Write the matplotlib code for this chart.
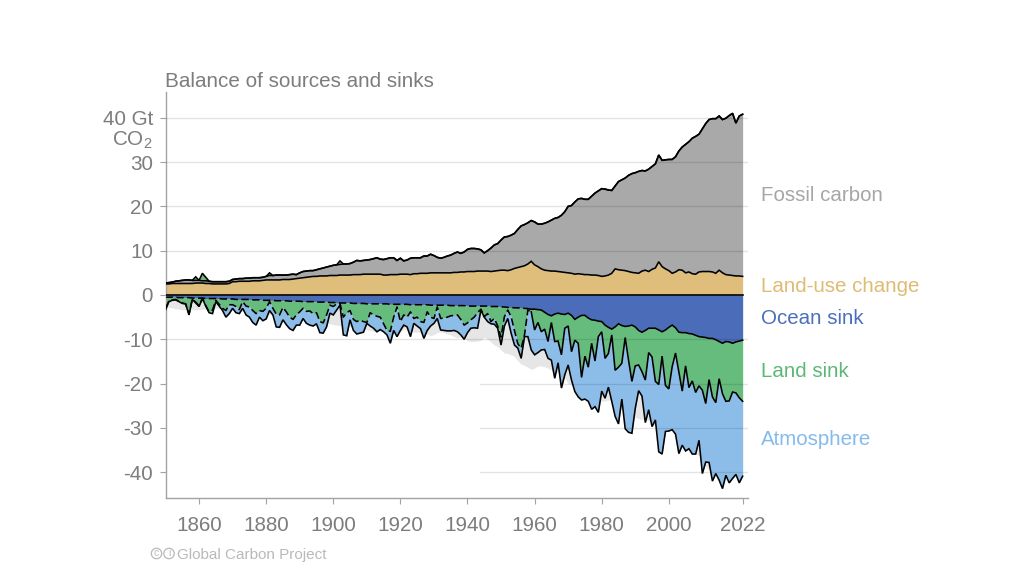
import numpy as np
import matplotlib
matplotlib.use("Agg")
import matplotlib.pyplot as plt
from matplotlib.patches import Circle

plt.rcParams['font.family'] = ['Liberation Sans', 'DejaVu Sans']
plt.rcParams['mathtext.fontset'] = 'custom'
plt.rcParams['mathtext.rm'] = 'Liberation Sans'
plt.rcParams['mathtext.default'] = 'regular'

years = list(range(1850, 2023))

# Upper edge of the stack: fossil carbon + land-use change (Gt CO2/yr)
total_emissions = [
    2.7, 2.8, 2.9, 3.1, 3.2, 3.3, 3.4, 3.4, 3.3, 3.3,
    3.3, 3.2, 3.2, 3.1, 3.0, 3.0, 3.0, 3.0, 3.0, 3.1,
    3.5, 3.6, 3.7, 3.7, 3.8, 3.8, 3.9, 3.9, 3.9, 4.0,
    4.2, 4.4, 4.4, 4.5, 4.5, 4.5, 4.5, 4.6, 4.7, 4.6,
    5.0, 5.3, 5.4, 5.5, 5.5, 5.7, 5.9, 6.1, 6.3, 6.5,
    6.7, 6.8, 6.9, 7.0, 7.0, 7.1, 7.4, 7.8, 7.7, 7.8,
    7.9, 8.0, 8.2, 8.4, 8.1, 8.0, 8.2, 8.4, 8.4, 7.8,
    8.3, 7.7, 7.9, 8.3, 8.4, 8.4, 8.4, 8.8, 8.8, 9.2,
    8.9, 8.5, 8.3, 8.5, 8.8, 9.0, 9.4, 9.7, 9.4, 9.7,
    10.3, 10.5, 10.5, 10.4, 10.2, 9.5, 10.0, 10.6, 11.3, 11.6,
    12.4, 13.1, 13.2, 13.5, 13.9, 14.8, 15.6, 15.9, 16.3, 16.8,
    16.5, 16.0, 16.0, 16.2, 16.5, 16.9, 17.3, 17.5, 18.0, 18.8,
    20.0, 20.2, 21.0, 21.7, 21.8, 21.6, 21.6, 22.3, 23.0, 23.5,
    24.0, 23.9, 23.7, 23.6, 24.6, 25.6, 26.0, 26.4, 27.0, 27.4,
    27.6, 27.9, 28.1, 28.0, 28.4, 29.0, 29.6, 31.6, 30.4, 30.5,
    30.6, 30.6, 31.2, 32.5, 33.4, 34.0, 34.6, 35.4, 35.8, 36.3,
    37.5, 38.7, 39.6, 39.8, 39.8, 40.4, 39.6, 39.9, 40.5, 41.0,
    38.8, 40.4, 40.8]

land_use_change = [
    2.5, 2.5, 2.6, 2.6, 2.6, 2.6, 2.6, 2.6, 2.6, 2.7,
    2.7, 2.7, 2.6, 2.6, 2.5, 2.5, 2.5, 2.5, 2.5, 2.6,
    3.0, 3.0, 3.1, 3.1, 3.1, 3.1, 3.2, 3.2, 3.2, 3.3,
    3.4, 3.4, 3.4, 3.4, 3.4, 3.5, 3.5, 3.5, 3.6, 3.7,
    3.8, 3.9, 4.0, 4.1, 4.2, 4.2, 4.3, 4.3, 4.3, 4.4,
    4.4, 4.4, 4.5, 4.5, 4.5, 4.5, 4.6, 4.6, 4.6, 4.7,
    4.7, 4.7, 4.7, 4.7, 4.7, 4.5, 4.5, 4.6, 4.6, 4.6,
    4.7, 4.7, 4.7, 4.6, 4.8, 4.8, 4.9, 4.9, 4.9, 5.0,
    5.0, 5.0, 5.0, 5.0, 5.0, 5.0, 5.1, 5.1, 5.2, 5.2,
    5.3, 5.3, 5.3, 5.4, 5.4, 5.4, 5.4, 5.3, 5.4, 5.5,
    5.6, 5.6, 5.5, 5.7, 6.0, 6.2, 6.4, 6.6, 7.0, 7.6,
    6.8, 6.4, 5.9, 5.6, 5.5, 5.4, 5.4, 5.3, 5.2, 5.1,
    5.0, 4.9, 4.7, 4.8, 4.7, 4.6, 4.6, 4.5, 4.5, 4.4,
    4.2, 4.3, 4.5, 4.9, 5.9, 5.7, 5.6, 5.5, 5.3, 5.1,
    5.0, 4.9, 5.4, 5.6, 5.3, 5.8, 6.1, 7.5, 6.4, 5.9,
    5.5, 4.9, 5.2, 5.7, 5.6, 5.0, 5.2, 4.8, 4.7, 5.2,
    5.3, 5.3, 5.3, 5.2, 4.9, 5.6, 5.0, 4.6, 4.5, 4.4,
    4.3, 4.3, 4.2]

ocean_sink = [
    -0.5, -0.5, -0.5, -0.5, -0.6, -0.6, -0.6, -0.6, -0.7, -0.7,
    -0.7, -0.7, -0.8, -0.8, -0.8, -0.8, -0.8, -0.9, -0.9, -0.9,
    -0.9, -1.0, -1.0, -1.0, -1.0, -1.0, -1.1, -1.1, -1.1, -1.2,
    -1.2, -1.2, -1.2, -1.3, -1.3, -1.3, -1.3, -1.4, -1.4, -1.4,
    -1.4, -1.5, -1.5, -1.5, -1.5, -1.6, -1.6, -1.6, -1.6, -1.7,
    -1.7, -1.7, -1.8, -1.8, -1.8, -1.8, -1.9, -1.9, -1.9, -1.9,
    -2.0, -2.0, -2.0, -2.0, -2.0, -2.0, -2.0, -2.1, -2.1, -2.1,
    -2.1, -2.1, -2.1, -2.2, -2.2, -2.2, -2.2, -2.2, -2.2, -2.3,
    -2.3, -2.3, -2.3, -2.3, -2.3, -2.4, -2.4, -2.4, -2.4, -2.4,
    -2.5, -2.5, -2.5, -2.5, -2.5, -2.5, -2.5, -2.6, -2.6, -2.6,
    -2.7, -2.7, -2.8, -2.8, -2.9, -2.9, -3.0, -3.0, -3.1, -3.2,
    -3.2, -3.3, -3.4, -3.9, -4.4, -4.7, -4.3, -4.1, -4.3, -4.4,
    -4.1, -4.6, -5.5, -5.0, -4.6, -4.6, -5.2, -5.6, -5.7, -5.9,
    -6.0, -6.8, -7.3, -7.7, -7.2, -6.5, -6.9, -7.1, -7.0, -6.8,
    -7.2, -8.0, -8.4, -8.0, -7.5, -7.5, -7.5, -7.9, -8.3, -7.9,
    -7.3, -6.8, -7.4, -8.4, -8.5, -8.5, -8.7, -8.8, -9.1, -9.4,
    -9.5, -9.6, -9.8, -9.8, -10.1, -10.5, -10.9, -10.5, -10.6, -10.9,
    -10.6, -10.4, -10.2]

# Lower edge of the land sink band (ocean + land)
ocean_plus_land = [
    -3.0, -1.4, -1.1, -1.0, -1.4, -1.8, -2.0, -4.3, -0.9, -1.6,
    -2.4, -0.8, -2.4, -3.8, -3.4, -1.2, -2.1, -3.0, -3.5, -2.2,
    -2.2, -2.6, -3.3, -1.5, -2.5, -2.7, -3.5, -4.2, -3.5, -3.7,
    -3.0, -1.5, -3.0, -4.3, -4.5, -2.8, -3.8, -5.0, -5.5, -4.5,
    -3.8, -3.0, -3.7, -3.6, -4.2, -4.0, -6.0, -6.3, -4.5, -2.3,
    -2.6, -2.0, -1.9, -5.0, -4.0, -3.5, -5.5, -6.0, -5.7, -6.0,
    -6.2, -4.0, -4.5, -4.8, -5.0, -6.5, -8.0, -8.2, -5.0, -2.7,
    -6.0, -4.5, -5.0, -3.8, -5.3, -5.0, -6.0, -6.2, -3.8, -5.0,
    -5.3, -2.7, -5.3, -5.2, -5.0, -4.7, -4.6, -4.5, -5.5, -6.8,
    -6.3, -5.6, -5.0, -4.0, -3.2, -4.9, -4.2, -6.0, -5.3, -7.0,
    -9.5, -4.9, -3.4, -4.9, -8.0, -11.0, -12.0, -9.0, -3.4, -3.8,
    -7.9, -6.2, -8.3, -7.7, -10.5, -6.2, -10.5, -10.4, -13.5, -7.5,
    -7.0, -12.8, -10.2, -10.9, -18.6, -13.8, -16.3, -10.9, -14.9, -9.4,
    -8.3, -14.3, -13.2, -9.0, -17.0, -16.3, -15.4, -9.6, -14.7, -19.5,
    -16.0, -15.8, -17.3, -19.2, -13.0, -14.0, -19.5, -20.2, -13.8, -20.4,
    -21.2, -16.2, -13.1, -17.4, -21.7, -16.0, -20.9, -19.4, -22.0, -20.5,
    -21.5, -24.5, -19.1, -23.0, -24.3, -18.9, -22.3, -24.0, -23.9, -21.9,
    -22.1, -23.2, -24.0]

# Lower edge of the atmosphere band (ocean + land + atmosphere)
all_sinks = [
    -3.4, -1.5, -1.2, -1.1, -1.5, -1.9, -2.0, -4.5, -1.0, -1.8,
    -2.6, -0.8, -2.5, -4.0, -4.2, -1.5, -2.5, -3.5, -5.0, -4.2,
    -3.0, -4.0, -4.2, -3.0, -4.5, -5.0, -6.2, -6.8, -5.0, -5.8,
    -5.4, -3.5, -4.5, -7.2, -7.3, -5.6, -6.7, -7.6, -8.0, -6.8,
    -6.8, -5.3, -6.4, -6.8, -7.0, -6.5, -8.5, -8.6, -7.2, -4.1,
    -4.5, -3.4, -2.3, -9.0, -9.2, -5.6, -8.0, -8.8, -8.6, -8.4,
    -6.4, -7.0, -7.5, -8.3, -7.8, -8.3, -9.0, -10.9, -8.0, -9.4,
    -8.0, -6.8, -7.2, -9.4, -6.4, -7.0, -7.6, -9.8, -8.0, -7.0,
    -6.4, -5.3, -7.9, -8.0, -8.1, -8.1, -8.0, -8.3, -9.0, -10.0,
    -8.5, -7.5, -7.4, -7.5, -3.4, -5.0, -6.0, -6.5, -6.6, -7.5,
    -11.3, -7.0, -5.3, -8.6, -11.3, -12.0, -14.3, -9.4, -9.4, -12.4,
    -13.5, -13.0, -12.4, -12.3, -14.3, -14.7, -18.8, -15.3, -21.0, -18.0,
    -15.8, -19.2, -21.8, -23.0, -23.7, -23.5, -24.0, -25.8, -25.2, -26.5,
    -21.7, -23.3, -20.8, -24.0, -27.4, -29.1, -23.5, -30.2, -31.0, -31.2,
    -25.6, -21.6, -22.8, -28.8, -25.9, -29.7, -28.2, -35.4, -35.9, -30.8,
    -30.7, -30.4, -31.4, -35.8, -33.9, -35.2, -34.7, -35.9, -35.9, -32.8,
    -40.3, -37.7, -37.8, -42.0, -40.3, -41.8, -43.7, -40.7, -42.4, -41.4,
    -40.5, -42.4, -40.9]

# Years when land acted as a source: green bumps over the emissions stack
land_source_years = [1859, 1861, 1862, 1881, 1902]
land_source_values = [0.8, 1.7, 0.8, 0.6, 0.8]

y_ticks = [40, 30, 20, 10, 0, -10, -20, -30, -40]
y_tick_labels = ['40 Gt', '30', '20', '10', '0', '-10', '-20', '-30', '-40']
x_ticks = [1860, 1880, 1900, 1920, 1940, 1960, 1980, 2000, 2022]
series_labels = ['Fossil carbon', 'Land-use change', 'Ocean sink', 'Land sink', 'Atmosphere']
series_label_y = [22.4, 2.0, -5.2, -17.2, -32.6]

COL = dict(fossil='#a9a9a9', luc='#dfbd7b', ocean='#4b6cb8', land='#66bc7d',
           atm='#8cbde9', gap='#e6e6e6')
label_colors = ['#a6a6a6', '#dfbb74', '#4a6fbd', '#5cb874', '#85bbec']
TXT = '#7d7d7d'
AX = '#a3a3a3'

W, H = 1033, 572
fig = plt.figure(figsize=(W / 100, H / 100), dpi=100)
ax = fig.add_axes([165.5 / W, 1 - 498 / H, (748 - 165.5) / W, (498 - 92) / H])

x = np.array(years)
total = np.array(total_emissions)
luc = np.array(land_use_change)
ocean = np.array(ocean_sink)
land = np.array(ocean_plus_land)
sinks = np.array(all_sinks)
source = np.zeros(len(x))
source[np.isin(x, land_source_years)] = land_source_values

ax.fill_between(x, 0, -total, color=COL['gap'], lw=0, zorder=1)
ax.fill_between(x, 0, luc, color=COL['luc'], lw=0, zorder=2)
ax.fill_between(x, luc, total, color=COL['fossil'], lw=0, zorder=2)
ax.fill_between(x, total, total + source, color=COL['land'], lw=0, zorder=2)
ax.fill_between(x, 0, ocean, color=COL['ocean'], lw=0, zorder=2)
ax.fill_between(x, ocean, land, color=COL['land'], lw=0, zorder=2)
ax.fill_between(x, land, sinks, color=COL['atm'], lw=0, zorder=2)

# Gridlines, partly hidden left of 1944 below -10 as in the source
grid_kw = dict(color='black', alpha=0.11, lw=1.0, zorder=3)
for v in y_ticks:
    if v == 0:
        continue
    start = 1943.7 if v <= -20 else 1850
    ax.plot([start, 2023.6], [v, v], **grid_kw)

LW = 1.15
line_kw = dict(color='black', lw=LW, zorder=5, solid_joinstyle='miter')
ax.plot(x, total + source, **line_kw)
ax.plot(x, total, **line_kw)
ax.plot(x, luc, **line_kw)
ax.plot(x, np.zeros(len(x)), color='black', lw=1.2, zorder=5)
ax.plot(x, sinks, **line_kw)

dash = dict(color='black', lw=LW, zorder=5, dashes=(4.6, 2.2))
pre = x <= 1958
post = x >= 1958
ax.plot(x[pre], ocean[pre], **dash)
ax.plot(x[post], ocean[post], **line_kw)
pre_l = x <= 1959
post_l = x >= 1959
ax.plot(x[pre_l], land[pre_l], **dash)
ax.plot(x[post_l], land[post_l], **line_kw)

ax.set_xlim(1850, 2023.6)
ax.set_ylim(-45.82, 45.82)
for s in ('top', 'right'):
    ax.spines[s].set_visible(False)
for s in ('left', 'bottom'):
    ax.spines[s].set_color(AX)
    ax.spines[s].set_linewidth(1.0)
ax.set_yticks(y_ticks)
ax.set_yticklabels(y_tick_labels)
ax.set_xticks(x_ticks)
ax.set_xticklabels([str(t) for t in x_ticks])
ax.tick_params(axis='y', length=4, width=0.8, color=AX, labelcolor=TXT,
               labelsize=14.9, pad=5)
ax.tick_params(axis='x', length=4, width=0.8, color=AX, labelcolor=TXT,
               labelsize=14.9, pad=9)

ax.text(-0.0215, 0.5 + 34.9 / 91.64, 'CO$_2$', transform=ax.transAxes, ha='right',
        va='center', fontsize=14.9, color=TXT)

fig.text(165 / W, 1 - 81 / H, 'Balance of sources and sinks', ha='left', va='center',
         fontsize=14.85, color=TXT)

for name, yy, c in zip(series_labels, series_label_y, label_colors):
    ax.text(2027.5, yy, name, ha='left', va='center', fontsize=14.8, color=c)

# Footer with licence marks
FOOT = '#b9b9b9'
fig.text(177 / W, 1 - 555.5 / H, 'Global Carbon Project', ha='left', va='center',
         fontsize=11, color=FOOT)
for cx, mark in ((156.5, 'c'), (169, 'i')):
    fig.add_artist(Circle((cx / 100, (H - 553.5) / 100), 5.2 / 100,
                          transform=fig.dpi_scale_trans, fill=False, ec=FOOT, lw=0.9))
    fig.text(cx / W, 1 - 553.5 / H, mark, ha='center', va='center', fontsize=7.5, color=FOOT)

fig.savefig('out.png', dpi=100, facecolor='white')
